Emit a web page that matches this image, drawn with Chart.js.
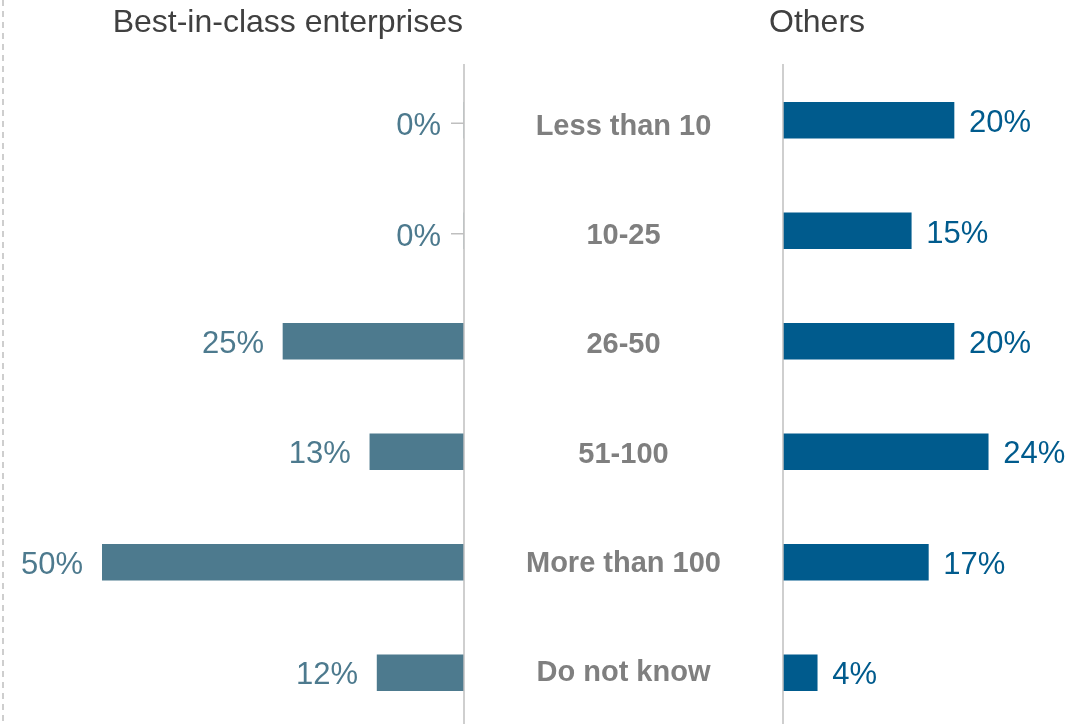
<!DOCTYPE html>
<html>
<head>
<meta charset="utf-8">
<script src="https://cdn.jsdelivr.net/npm/chart.js@4/dist/chart.umd.min.js"></script>
<style>
  html, body { margin: 0; padding: 0; background: #fff; overflow: hidden; }
  #wrap { position: relative; width: 1088px; height: 740px; }
  #wrap canvas { position: absolute; left: 0; top: 0; }
</style>
</head>
<body>
<div id="wrap">
  <canvas id="leftChart" width="1088" height="740"></canvas>
  <canvas id="rightChart" width="1088" height="740"></canvas>
</div>
<script>
// data
const categories = ["Less than 10", "10-25", "26-50", "51-100", "More than 100", "Do not know"];
const bestInClass = [0, 0, 25, 13, 50, 12];
const others = [20, 15, 20, 24, 17, 4];

const FONT = "'Liberation Sans', Arial, sans-serif";
const LEFT_COLOR = "#4d7a8e";
const RIGHT_COLOR = "#005b8d";
const AXIS_COLOR = "#bfbfbf";

// arvojen tekstit + akselin viiva
function barLabels(side) {
  return {
    id: "barLabels_" + side,
    afterDatasetsDraw(chart) {
      const c = chart.ctx;
      const area = chart.chartArea;
      const meta = chart.getDatasetMeta(0);
      const values = chart.data.datasets[0].data;
      c.save();

      // pystyviiva nollakohdassa
      const zeroX = chart.scales.x.getPixelForValue(0);
      c.strokeStyle = AXIS_COLOR;
      c.lineWidth = 1.5;
      c.beginPath();
      c.moveTo(zeroX, area.top - 1);
      c.lineTo(zeroX, 740);
      c.stroke();

      c.font = "31px " + FONT;
      meta.data.forEach((bar, i) => {
        const v = values[i];
        const y = bar.y + (v === 0 ? 15 : 12 - (i > 2 ? 0.5 : 0));
        if (side === "left") {
          c.fillStyle = LEFT_COLOR;
          c.textAlign = "right";
          if (v === 0) {
            c.strokeStyle = AXIS_COLOR;
            c.beginPath();
            c.moveTo(zeroX - 13, bar.y + 3);
            c.lineTo(zeroX, bar.y + 3);
            c.stroke();
            c.fillText(v + "%", bar.x - 23, y);
          } else {
            c.fillText(v + "%", bar.x - 19, y);
          }
        } else {
          c.fillStyle = RIGHT_COLOR;
          c.textAlign = "left";
          c.fillText(v + "%", bar.x + 15, y);
        }
      });

      c.font = "32px " + FONT;
      if (side === "left") {
        // otsikko
        c.fillStyle = "#404040";
        c.textAlign = "right";
        c.fillText("Best-in-class enterprises", zeroX - 1, 32);
        // katkoviiva vasemmassa reunassa
        c.strokeStyle = AXIS_COLOR;
        c.lineWidth = 1.5;
        c.setLineDash([6, 5]);
        c.beginPath();
        c.moveTo(3, 0);
        c.lineTo(3, 740);
        c.stroke();
        c.setLineDash([]);
      } else {
        c.fillStyle = "#404040";
        c.textAlign = "left";
        c.fillText("Others", 769, 32);

        // kategoriat keskelle
        c.font = "bold 29px " + FONT;
        c.fillStyle = "#7f7f7f";
        c.textAlign = "center";
        const midX = (zeroX + 464) / 2;
        categories.forEach((cat, i) => {
          const cy = chart.scales.y.getPixelForValue(i);
          c.fillText(cat, midX, cy + 15 - 1.4 * i);
        });
      }
      c.restore();
    }
  };
}

function makeChart(id, values, color, side, padding, max) {
  return new Chart(document.getElementById(id), {
    type: "bar",
    data: {
      labels: categories,
      datasets: [{
        data: values,
        backgroundColor: color,
        borderWidth: 0,
        barThickness: 36
      }]
    },
    options: {
      indexAxis: "y",
      responsive: false,
      animation: false,
      layout: { padding: padding },
      plugins: {
        legend: { display: false },
        tooltip: { enabled: false }
      },
      scales: {
        x: { display: false, min: 0, max: max, reverse: side === "left" },
        y: { display: false }
      }
    },
    plugins: [barLabels(side)]
  });
}

makeChart("leftChart", bestInClass, LEFT_COLOR, "left",
  { left: 102, right: 1088 - 464, top: 65, bottom: 12 }, 50);
makeChart("rightChart", others, RIGHT_COLOR, "right",
  { left: 783, right: 1088 - (783 + 8.55 * 30), top: 65, bottom: 12 }, 30);
</script>
</body>
</html>
